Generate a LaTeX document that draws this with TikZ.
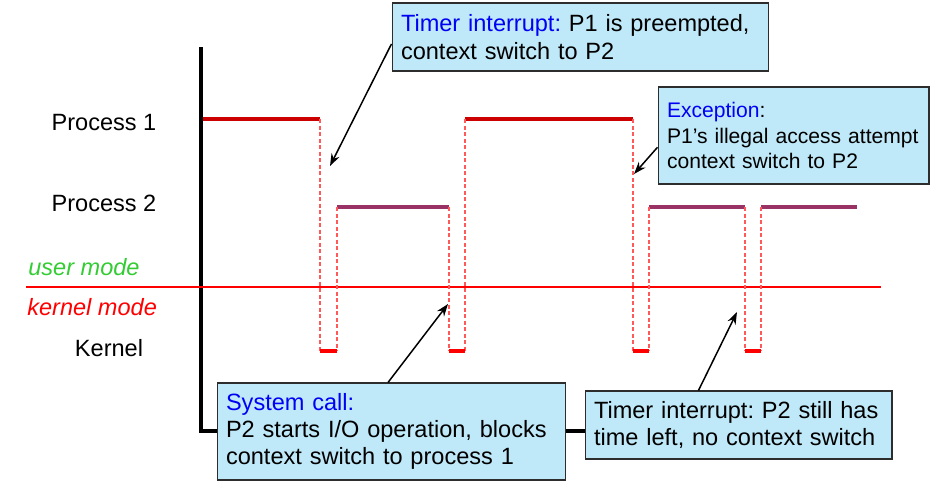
\documentclass[tikz,border=0pt]{standalone}
\usepackage{fontspec}
\setmainfont{Liberation Sans}
\usepackage{xcolor}
\definecolor{noteblue}{RGB}{191,233,248}
\definecolor{notetext}{RGB}{0,0,245}
\definecolor{procone}{RGB}{204,0,0}
\definecolor{proctwo}{RGB}{153,51,102}
\definecolor{kernred}{RGB}{255,0,0}
\definecolor{usergreen}{RGB}{51,204,51}
\usetikzlibrary{arrows.meta,calc}
\frenchspacing

\begin{document}
\begin{tikzpicture}[
    x=0.02cm, y=-0.02cm,
    font=\fontsize{13.4}{15.5}\selectfont,
    note/.style={
      rectangle, draw=gray!35!black, fill=noteblue, align=left,
      inner xsep=0.18cm, inner ysep=0pt, line width=0.6pt,
    },
    lbl/.style={inner sep=0pt},
    modelbl/.style={inner sep=0pt, anchor=west, font=\fontsize{13.4}{15.5}\selectfont\itshape},
    axis/.style={line width=2.3pt, black},
    userone/.style={line width=2.3pt, procone},
    usertwo/.style={line width=2.3pt, proctwo},
    kernseg/.style={line width=2.3pt, kernred},
    switch/.style={kernred!65, line width=0.7pt, dash pattern=on 2.3pt off 1.4pt},
    callout/.style={-{Stealth[length=7pt,width=5pt]}, line width=0.85pt, black},
  ]
  \useasboundingbox (0,0) rectangle (934,484);

  %% --- row labels ---
  \node[lbl] (p1lbl) at (104,123) {Process 1};
  \node[lbl] (p2lbl) at (104,203) {Process 2};
  \node[modelbl, text=usergreen] (usr) at (28,267) {user mode};
  \node[modelbl, text=kernred] (krn) at (27,307) {kernel mode};
  \node[lbl] (klbl) at (109,348) {Kernel};

  %% --- time axis and mode border ---
  \draw[axis] (201,47) |- (588,431);
  \draw[kernred, line width=1.1pt] (26,287) -- (881,287);

  %% --- process activity ---
  \foreach \xa/\xb in {203/320, 465/633}
    \draw[userone] (\xa,119) -- (\xb,119);
  \foreach \xa/\xb in {337/449, 649/745, 761/857}
    \draw[usertwo] (\xa,207) -- (\xb,207);

  %% --- kernel episodes ---
  \foreach \xa/\ya/\xb/\yb in {320/119/337/207, 449/207/465/119,
                               633/119/649/207, 745/207/761/207} {
    \draw[switch] (\xa,\ya) -- (\xa,351);
    \draw[switch] (\xb,\yb) -- (\xb,351);
    \draw[kernseg] (\xa,351) -- (\xb,351);
  }

  %% --- notes ---
  \node[note, text width=7.18cm, minimum height=1.36cm] (tmr) at (580.5,37)
    {\textcolor{notetext}{Timer interrupt:} P1 is preempted,\\
     context switch to P2};

  \node[note, font=\fontsize{12}{14.6}\selectfont, text width=5.06cm,
        minimum height=1.94cm] (exc) at (793.5,135.5)
    {\textcolor{notetext}{Exception}:\\
     P1’s illegal access attempt\\
     context switch to P2};

  \node[note, text width=6.62cm, minimum height=1.94cm] (sys) at (391.5,431.5)
    {\textcolor{notetext}{System call:}\\
     P2 starts I/O operation, blocks\\
     context switch to process 1};

  \node[note, text width=5.78cm, minimum height=1.36cm] (tmrb) at (738.5,425)
    {Timer interrupt: P2 still has\\
     time left, no context switch};

  %% --- arrows ---
  \coordinate (tmrtip) at (330,166);
  \coordinate (systip) at (448,304);
  \coordinate (exctip) at (634,174);
  \coordinate (tmrbtip) at (737,312);
  \draw[callout] ($(tmr.north west)!0.6!(tmr.south west)$) -- (tmrtip);
  \draw[callout] ($(sys.north west)!0.49!(sys.north east)$) -- (systip);
  \draw[callout] ($(exc.north west)!0.62!(exc.south west)$) -- (exctip);
  \draw[callout] ($(tmrb.north west)!0.37!(tmrb.north east)$) -- (tmrbtip);
\end{tikzpicture}
\end{document}
